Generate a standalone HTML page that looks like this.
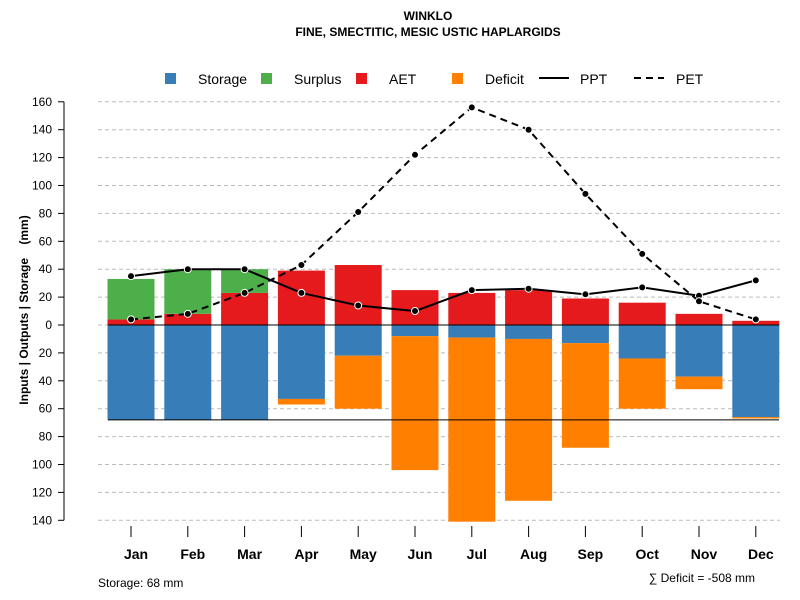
<!DOCTYPE html>
<html><head><meta charset="utf-8"><style>
body{margin:0;background:#fff;}
svg{display:block;font-family:"Liberation Sans",sans-serif;}
</style></head><body>
<svg id="c" width="800" height="600">
<text x="428" y="20" text-anchor="middle" font-size="12" font-weight="bold">WINKLO</text>
<text x="428" y="36" text-anchor="middle" font-size="12" font-weight="bold">FINE, SMECTITIC, MESIC USTIC HAPLARGIDS</text>
<text transform="translate(28,310) rotate(-90)" text-anchor="middle" font-size="12" font-weight="bold">Inputs | Outputs | Storage &#160;&#160;&#160;(mm)</text>
<text x="98" y="587" font-size="12">Storage: 68 mm</text>
<text x="755" y="582" text-anchor="end" font-size="12">∑ Deficit = -508 mm</text>
<g id="legend">
<g><rect x="165" y="73" width="11" height="11" fill="#377eb8"/><text x="198" y="84" font-size="14">Storage</text></g>
<g><rect x="261" y="73" width="11" height="11" fill="#4daf4a"/><text x="294" y="84" font-size="14">Surplus</text></g>
<g><rect x="356" y="73" width="11" height="11" fill="#e41a1c"/><text x="389" y="84" font-size="14">AET</text></g>
<g><rect x="452" y="73" width="11" height="11" fill="#ff7f00"/><text x="485" y="84" font-size="14">Deficit</text></g>
<g><line x1="539" y1="78" x2="569" y2="78" stroke="#000" stroke-width="2"/><text x="580" y="84" font-size="14">PPT</text></g>
<g><line x1="634" y1="78" x2="664" y2="78" stroke="#000" stroke-width="2" stroke-dasharray="7,5"/><text x="676" y="84" font-size="14">PET</text></g>
</g>
</svg>
<script>
const months=["Jan","Feb","Mar","Apr","May","Jun","Jul","Aug","Sep","Oct","Nov","Dec"];
const storage=[68,68,68,53,22,8,9,10,13,24,37,66];
const deficit=[0,0,0,4,38,96,132,116,75,36,9,1];
const aet=[4,8,23,39,43,25,23,25,19,16,8,3];
const surplus=[29,32,17,0,0,0,0,0,0,0,0,0];
const ppt=[35,40,40,23,14,10,25,26,22,27,21,32];
const pet=[4,8,23,43,81,122,156,140,94,51,17,4];
const yTicks=[160,140,120,100,80,60,40,20,0,-20,-40,-60,-80,-100,-120,-140];
const storageCap=68;
const NS="http://www.w3.org/2000/svg";
const svg=document.getElementById('c');
const y=v=>325-v*1.395;
const x=i=>131+i*56.8;
const bw=47;
function mk(t,a,p){const e=document.createElementNS(NS,t);for(const k in a)e.setAttribute(k,a[k]);(p||svg).appendChild(e);return e;}
const grid=mk('g',{});


const yax=mk('g',{});


mk('line',{x1:64,x2:64,y1:y(160),y2:y(-140),stroke:'#000'},yax);
yTicks.forEach(v=>{
 mk('line',{x1:98,x2:780,y1:y(v),y2:y(v),stroke:'#bbb','stroke-dasharray':'4,3'},grid);
 mk('line',{x1:58,x2:64,y1:y(v),y2:y(v),stroke:'#000'},yax);
 const t=mk('text',{x:52,y:y(v)+4,'text-anchor':'end','font-size':12},yax);t.textContent=Math.abs(v);
});
const bars=mk('g',{});


months.forEach((m,i)=>{
 const cx=x(i),l=cx-bw/2;
 let r;
 r=mk('rect',{x:l,y:y(0),width:bw,height:y(-storage[i])-y(0),fill:'#377eb8'},bars);
 
 
 r=mk('rect',{x:l,y:y(-storage[i]),width:bw,height:y(-storage[i]-deficit[i])-y(-storage[i]),fill:'#ff7f00'},bars);
 
 
 r=mk('rect',{x:l,y:y(aet[i]),width:bw,height:y(0)-y(aet[i]),fill:'#e41a1c'},bars);
 
 
 r=mk('rect',{x:l,y:y(aet[i]+surplus[i]),width:bw,height:y(aet[i])-y(aet[i]+surplus[i]),fill:'#4daf4a'},bars);
 
 
 const tk=mk('line',{x1:cx,x2:cx,y1:526,y2:537,stroke:'#000'});
 
 
 const t=mk('text',{x:cx+5,y:559,'text-anchor':'middle','font-size':14,'font-weight':'bold'});
 t.textContent=m;
 
 
});
const zl=mk('line',{x1:108,x2:779,y1:y(0),y2:y(0),stroke:'#000'});


const sl=mk('line',{x1:108,x2:779,y1:y(-storageCap),y2:y(-storageCap),stroke:'#000'});


function series(arr,name,dash){
 const g=mk('g',{});
 
 
 const p=mk('polyline',{points:arr.map((v,i)=>x(i)+','+y(v)).join(' '),fill:'none',stroke:'#000','stroke-width':2,'stroke-dasharray':dash||'none'},g);
 
 
 arr.forEach((v,i)=>{
  const c=mk('circle',{cx:x(i),cy:y(v),r:3.5,fill:'#000',stroke:'#fff','stroke-width':1},g);
  
  
 });
}
series(ppt,'ppt');
series(pet,'pet','7,5');
</script>
</body></html>
